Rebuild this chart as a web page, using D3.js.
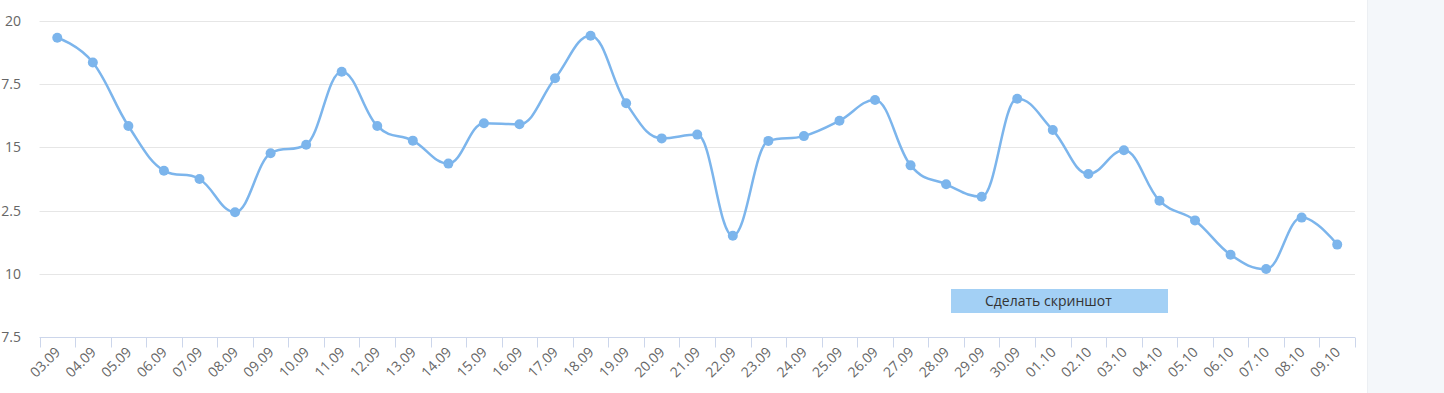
<!DOCTYPE html>
<html>
<head>
<meta charset="utf-8">
<script src="https://cdn.jsdelivr.net/npm/d3@7"></script>
<style>
  html, body { margin: 0; padding: 0; background: #fff; overflow: hidden; }
  svg { display: block; }
</style>
</head>
<body>
<svg id="chart" width="1444" height="393"></svg>
<script>
const categories = ["03.09","04.09","05.09","06.09","07.09","08.09","09.09","10.09","11.09","12.09","13.09","14.09","15.09","16.09","17.09","18.09","19.09","20.09","21.09","22.09","23.09","24.09","25.09","26.09","27.09","28.09","29.09","30.09","01.10","02.10","03.10","04.10","05.10","06.10","07.10","08.10","09.10"];
const values = [19.35,18.37,15.85,14.08,13.75,12.43,14.77,15.11,18.00,15.85,15.27,14.36,15.96,15.92,17.74,19.43,16.75,15.36,15.51,11.50,15.26,15.45,16.06,16.88,14.29,13.54,13.05,16.93,15.69,13.95,14.89,12.89,12.11,10.75,10.18,12.22,11.15];
const yTicks = [7.5, 10, 12.5, 15, 17.5, 20];
const yTickLabels = ["7.5", "10", "12.5", "15", "17.5", "20"];
const buttonLabel = "Сделать скриншот";

const svg = d3.select("#chart");
const plotLeft = 39.5, plotRight = 1355, plotTop = 21.3, plotBottom = 336.7;
const font = "'Segoe UI', 'Open Sans', 'Noto Sans', sans-serif";

// right side panel
svg.append("rect").attr("x", 1367).attr("y", 0).attr("width", 77).attr("height", 393).attr("fill", "#f4f7fa");
svg.append("line").attr("x1", 1367.5).attr("x2", 1367.5).attr("y1", 0).attr("y2", 393).attr("stroke", "#eceff3");

const x = d3.scaleBand().domain(categories).range([plotLeft, plotRight]).padding(0);
const y = d3.scaleLinear().domain([7.5, 20]).range([plotBottom, plotTop]);

// gridlines
svg.append("g").selectAll("line").data(yTicks.filter(t => t > 7.5)).join("line")
  .attr("x1", plotLeft).attr("x2", plotRight)
  .attr("y1", d => Math.round(y(d)) + 0.5).attr("y2", d => Math.round(y(d)) + 0.5)
  .attr("stroke", "#e6e6e6").attr("stroke-width", 1);

// y labels (left part clipped by the page edge, as in the reference)
svg.append("g").selectAll("text").data(yTicks).join("text")
  .attr("x", 21).attr("y", d => y(d) + 5)
  .attr("text-anchor", "end")
  .attr("font-family", font).attr("font-size", "14px").attr("fill", "#666666")
  .text((d, i) => yTickLabels[i]);

// x axis line & ticks
const axisY = Math.round(plotBottom) + 0.5;
svg.append("line").attr("x1", plotLeft).attr("x2", plotRight).attr("y1", axisY).attr("y2", axisY)
  .attr("stroke", "#ccd6eb").attr("stroke-width", 1);
const tickPos = categories.map(c => x(c)).concat([x(categories[categories.length - 1]) + x.bandwidth()]);
svg.append("g").selectAll("line").data(tickPos).join("line")
  .attr("x1", d => Math.round(d) + 0.5).attr("x2", d => Math.round(d) + 0.5)
  .attr("y1", axisY).attr("y2", axisY + 10)
  .attr("stroke", "#ccd6eb").attr("stroke-width", 1);

// x labels
svg.append("g").selectAll("text").data(categories).join("text")
  .attr("transform", d => `translate(${x(d) + x.bandwidth() / 2 + 4},${353}) rotate(-45)`)
  .attr("text-anchor", "end")
  .attr("font-family", font).attr("font-size", "14px").attr("fill", "#666666")
  .text(d => d);

// spline (Highcharts-like)
const pts = values.map((v, i) => ({ x: x(categories[i]) + x.bandwidth() / 2, y: y(v) }));
const smoothing = 1.5, denom = smoothing + 1;
pts.forEach((p, i) => {
  const last = pts[i - 1], next = pts[i + 1];
  if (last && next) {
    let lcx = (smoothing * p.x + last.x) / denom, lcy = (smoothing * p.y + last.y) / denom;
    let rcx = (smoothing * p.x + next.x) / denom, rcy = (smoothing * p.y + next.y) / denom;
    if (rcx !== lcx) {
      const corr = ((rcy - lcy) * (rcx - p.x)) / (rcx - lcx) + p.y - rcy;
      lcy += corr; rcy += corr;
    }
    if (lcy > last.y && lcy > p.y) { lcy = Math.max(last.y, p.y); rcy = 2 * p.y - lcy; }
    else if (lcy < last.y && lcy < p.y) { lcy = Math.min(last.y, p.y); rcy = 2 * p.y - lcy; }
    if (rcy > next.y && rcy > p.y) { rcy = Math.max(next.y, p.y); lcy = 2 * p.y - rcy; }
    else if (rcy < next.y && rcy < p.y) { rcy = Math.min(next.y, p.y); lcy = 2 * p.y - rcy; }
    p.lcx = lcx; p.lcy = lcy; p.rcx = rcx; p.rcy = rcy;
  } else {
    p.lcx = p.x; p.lcy = p.y; p.rcx = p.x; p.rcy = p.y;
  }
});
const path = d3.path();
pts.forEach((p, i) => {
  if (i === 0) path.moveTo(p.x, p.y);
  else { const l = pts[i - 1]; path.bezierCurveTo(l.rcx, l.rcy, p.lcx, p.lcy, p.x, p.y); }
});
svg.append("path").attr("d", path.toString()).attr("fill", "none")
  .attr("stroke", "#7cb5ec").attr("stroke-width", 2.5).attr("stroke-linejoin", "round").attr("stroke-linecap", "round");

svg.append("g").selectAll("circle").data(pts).join("circle")
  .attr("cx", d => d.x).attr("cy", d => d.y).attr("r", 5).attr("fill", "#7cb5ec");

// screenshot button
svg.append("rect").attr("x", 951).attr("y", 289).attr("width", 217).attr("height", 24).attr("fill", "#a3d0f5");
svg.append("text").attr("x", 985).attr("y", 306).attr("font-family", font).attr("font-size", "14px")
  .attr("fill", "#333333").text(buttonLabel);
</script>
</body>
</html>
